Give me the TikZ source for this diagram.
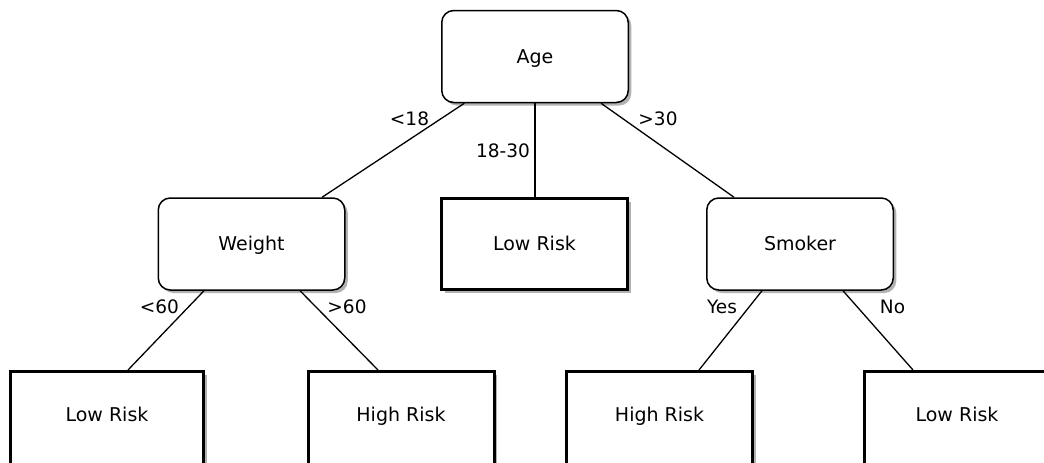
\documentclass[tikz,border=0pt]{standalone}
\usepackage{fontspec}
\setmainfont{DejaVu Sans}
\usetikzlibrary{shadows}

\tikzset{
  boxshadow/.style={general shadow={fill=black!30, shadow xshift=3pt, shadow yshift=-3pt}},
  boxtext/.style={font=\fontsize{19}{23}\selectfont, text height=13.9pt, text depth=0pt, inner sep=0pt, align=center},
  decision/.style={boxtext, draw, line width=1.5pt, rounded corners=12pt, fill=white,
                   minimum width=186.5pt, minimum height=92pt, boxshadow},
  leaf/.style={boxtext, draw, line width=3pt, fill=white,
               minimum width=186pt, minimum height=91pt, boxshadow},
  lowleaf/.style={leaf, minimum height=98pt, text depth=11pt},
  branch/.style={line width=1.3pt},
  cond/.style={font=\fontsize{18.5}{22}\selectfont, inner sep=0pt, anchor=base}
}

\begin{document}
\begin{tikzpicture}[x=1pt, y=-1pt]
  \useasboundingbox (0,0) rectangle (1044,463);
  \fill[white] (0,0) rectangle (1044,463);
  \clip (0,0) rectangle (1044,463);

  % decision nodes
  \node[decision] (age)    at (535,56.5) {Age};
  \node[decision] (weight) at (251.5,244) {Weight};
  \node[decision] (smoker) at (800,244)   {Smoker};

  % leaves
  \node[leaf] (lowmid) at (534.5,244) {Low Risk};
  \node[lowleaf, minimum width=193pt] (lr1) at (107,420.5) {Low Risk};
  \node[lowleaf] (hr1) at (401,420.5)   {High Risk};
  \node[lowleaf] (hr2) at (659.5,420.5) {High Risk};
  \node[lowleaf] (lr2) at (957,420.5)   {Low Risk};

  % branches from the root
  \draw[branch] (age) -- (weight);
  \draw[branch] (age.south) -- (age.south |- lowmid.north);
  \draw[branch] (age) -- (smoker);

  % branches from Weight and Smoker
  \draw[branch] ([xshift=-47.5pt]weight.south) -- ([xshift=21pt]lr1.north);
  \draw[branch] ([xshift=48.5pt]weight.south) -- ([xshift=-23pt]hr1.north);
  \draw[branch] ([xshift=-38pt]smoker.south) -- ([xshift=39.5pt]hr2.north);
  \draw[branch] ([xshift=43pt]smoker.south) -- ([xshift=-44pt]lr2.north);

  % branch conditions
  \node[cond] (c1) at (409.5,125) {<18};
  \node[cond] (c2) at (503,157)   {18-30};
  \node[cond] (c3) at (658,125)   {>30};
  \node[cond] (c4) at (159.5,313) {<60};
  \node[cond] (c5) at (347,313)   {>60};
  \node[cond] (c6) at (722,313)   {Yes};
  \node[cond] (c7) at (892.5,313) {No};
\end{tikzpicture}
\end{document}
